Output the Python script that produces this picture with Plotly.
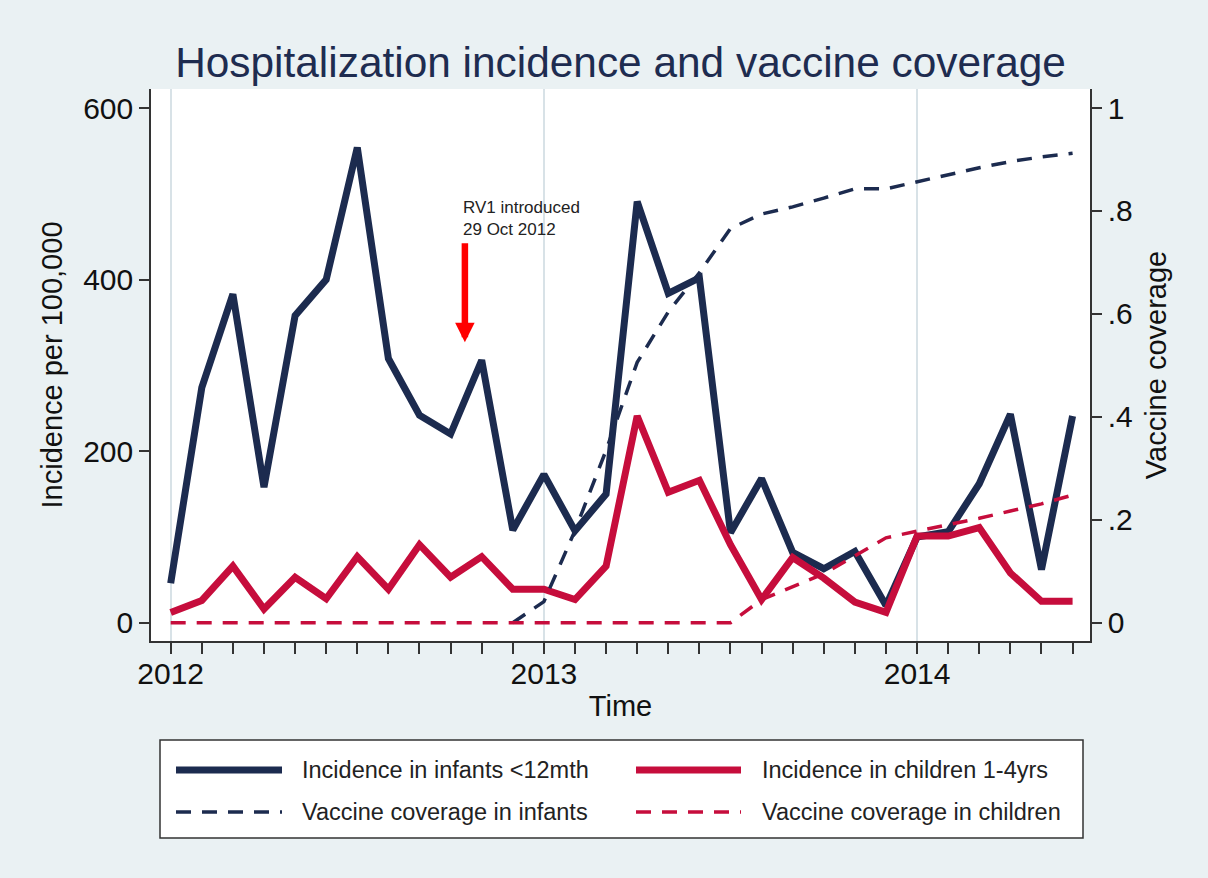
import plotly.graph_objects as go

# ---------------- data ----------------
months = ["2012-01", "2012-02", "2012-03", "2012-04", "2012-05", "2012-06",
          "2012-07", "2012-08", "2012-09", "2012-10", "2012-11", "2012-12",
          "2013-01", "2013-02", "2013-03", "2013-04", "2013-05", "2013-06",
          "2013-07", "2013-08", "2013-09", "2013-10", "2013-11", "2013-12",
          "2014-01", "2014-02", "2014-03", "2014-04", "2014-05", "2014-06"]

infants_incidence = [46, 274, 383, 158, 358, 400, 554, 308, 242, 220, 306, 108,
                     173, 107, 150, 491, 384, 402, 105, 168, 82, 63, 83, 20,
                     100, 106, 162, 243, 62, 241]
children_incidence = [12, 26, 66, 16, 53, 28, 77, 39, 91, 53, 77, 39,
                      39, 27, 66, 241, 152, 166, 91, 27, 76, 52, 24, 12,
                      101, 101, 111, 58, 25, 25]
infants_coverage = [None, None, None, None, None, None, None, None, None, None, None, 0.0,
                    0.041, 0.179, 0.335, 0.506, 0.604, 0.68, 0.766, 0.794, 0.808, 0.825, 0.843, 0.843,
                    0.857, 0.871, 0.884, 0.896, 0.905, 0.912]
children_coverage = [0, 0, 0, 0, 0, 0, 0, 0, 0, 0, 0, 0,
                     0, 0, 0, 0, 0, 0, 0, 0.045, 0.07, 0.095, 0.13, 0.165,
                     0.178, 0.19, 0.203, 0.217, 0.231, 0.248]

series_names = ["Incidence in infants <12mth", "Incidence in children 1-4yrs",
                "Vaccine coverage in infants", "Vaccine coverage in children"]

year_ticks = [0, 12, 24]
year_labels = ["2012", "2013", "2014"]
left_ticks = [0, 200, 400, 600]
right_ticks = [0, 0.2, 0.4, 0.6, 0.8, 1]
right_labels = ["0", ".2", ".4", ".6", ".8", "1"]

annot_text = "RV1 introduced<br>29 Oct 2012"
annot_x = 9.33
annot_y = 471
arrow_x = 9.46
arrow_tail_y = 444
arrow_head_y = 327

# ---------------- style ----------------
NAVY = "#1c2b4f"
RED = "#c60d3c"
BG = "#eaf1f3"
GRID = "#d8e2e7"
FONT = "Liberation Sans, Arial, sans-serif"

x = list(range(len(months)))

fig = go.Figure()
fig.add_trace(go.Scatter(x=x, y=infants_incidence, mode="lines", name=series_names[0],
                         line=dict(color=NAVY, width=7), yaxis="y"))
fig.add_trace(go.Scatter(x=x, y=children_incidence, mode="lines", name=series_names[1],
                         line=dict(color=RED, width=7), yaxis="y"))
fig.add_trace(go.Scatter(x=x, y=infants_coverage, mode="lines", name=series_names[2],
                         line=dict(color=NAVY, width=3.5, dash="15px,11px"), yaxis="y2"))
fig.add_trace(go.Scatter(x=x, y=children_coverage, mode="lines", name=series_names[3],
                         line=dict(color=RED, width=3.5, dash="15px,11px"), yaxis="y2"))

# plot-area pixel geometry
L, R, T, B = 151, 1090, 89, 641
W, H = 1208, 878


def px(xp):
    return (xp - L) / (R - L)


def py(yp):
    return (B - yp) / (B - T)


fig.update_layout(
    width=W, height=H,
    margin=dict(l=L, r=W - R, t=T, b=H - B),
    paper_bgcolor=BG, plot_bgcolor="white",
    showlegend=False,
    font=dict(family=FONT, color="#111111"),
    title=dict(text="Hospitalization incidence and vaccine coverage",
               font=dict(size=42.4, color="#1e2c50", family=FONT),
               x=0.5, xref="paper", xanchor="center",
               y=1 - 62 / H, yref="container", yanchor="middle"),
    xaxis=dict(range=[-0.633, 29.56], tickmode="array", tickvals=year_ticks, ticktext=year_labels,
               ticks="outside", ticklen=11, tickwidth=1.5, tickcolor="#333333",
               ticklabelstandoff=-6,
               showgrid=True, gridcolor=GRID, gridwidth=1.5, zeroline=False,
               showline=True, linecolor="#333333", linewidth=1.5,
               tickfont=dict(size=30, color="#111111"),
               minor=dict(tickmode="linear", tick0=0, dtick=1, ticks="outside", ticklen=11,
                          tickwidth=1.5, tickcolor="#333333", showgrid=False),
               title=dict(text="Time", font=dict(size=29, color="#111111"), standoff=7)),
    yaxis=dict(range=[-21.3, 622.2], tickmode="array", tickvals=left_ticks,
               ticks="outside", ticklen=10, tickwidth=1.5, tickcolor="#333333",
               showgrid=False, zeroline=False,
               showline=True, linecolor="#333333", linewidth=1.5,
               tickfont=dict(size=30, color="#111111"),
               title=dict(text="Incidence per 100,000", font=dict(size=29, color="#111111"), standoff=12)),
    yaxis2=dict(range=[-21.3 / 600, 622.2 / 600], overlaying="y", side="right",
                tickmode="array", tickvals=right_ticks, ticktext=right_labels,
                ticks="outside", ticklen=10, tickwidth=1.5, tickcolor="#333333",
                showgrid=False, zeroline=False,
                showline=True, linecolor="#333333", linewidth=1.5,
                tickfont=dict(size=30, color="#111111"),
                title=dict(text="Vaccine coverage", font=dict(size=29, color="#111111"), standoff=14)),
)

# RV1 annotation text + arrow
fig.add_annotation(x=annot_x, y=annot_y, xref="x", yref="y", text=annot_text, showarrow=False,
                   xanchor="left", yanchor="middle", align="left",
                   font=dict(size=17, color="#222222", family=FONT))
fig.add_annotation(x=arrow_x, y=arrow_head_y, ax=arrow_x, ay=arrow_tail_y,
                   xref="x", yref="y", axref="x", ayref="y", text="",
                   showarrow=True, arrowhead=2, arrowsize=0.6, arrowwidth=6.5,
                   arrowcolor="#ff0000", standoff=0)

# custom legend (box, symbols, labels)
fig.add_shape(type="rect", xref="paper", yref="paper",
              x0=px(160), x1=px(1083), y0=py(838), y1=py(740),
              fillcolor="white", line=dict(color="#333333", width=1.5), layer="above")
legend_items = [
    (series_names[0], NAVY, 7, "solid", 176, 282, 300, 770),
    (series_names[1], RED, 7, "solid", 636, 741, 760, 770),
    (series_names[2], NAVY, 3.5, "15px,11px", 176, 282, 300, 812),
    (series_names[3], RED, 3.5, "15px,11px", 636, 741, 760, 812),
]
for name, color, width, dash, sx0, sx1, tx, ty in legend_items:
    fig.add_shape(type="line", xref="paper", yref="paper",
                  x0=px(sx0), x1=px(sx1), y0=py(ty), y1=py(ty),
                  line=dict(color=color, width=width, dash=dash), layer="above")
    fig.add_annotation(x=px(tx), y=py(ty), xref="paper", yref="paper", text=name,
                       showarrow=False, xanchor="left", yanchor="middle",
                       font=dict(size=23.5, color="#222222", family=FONT))

fig.write_html("out.html")
